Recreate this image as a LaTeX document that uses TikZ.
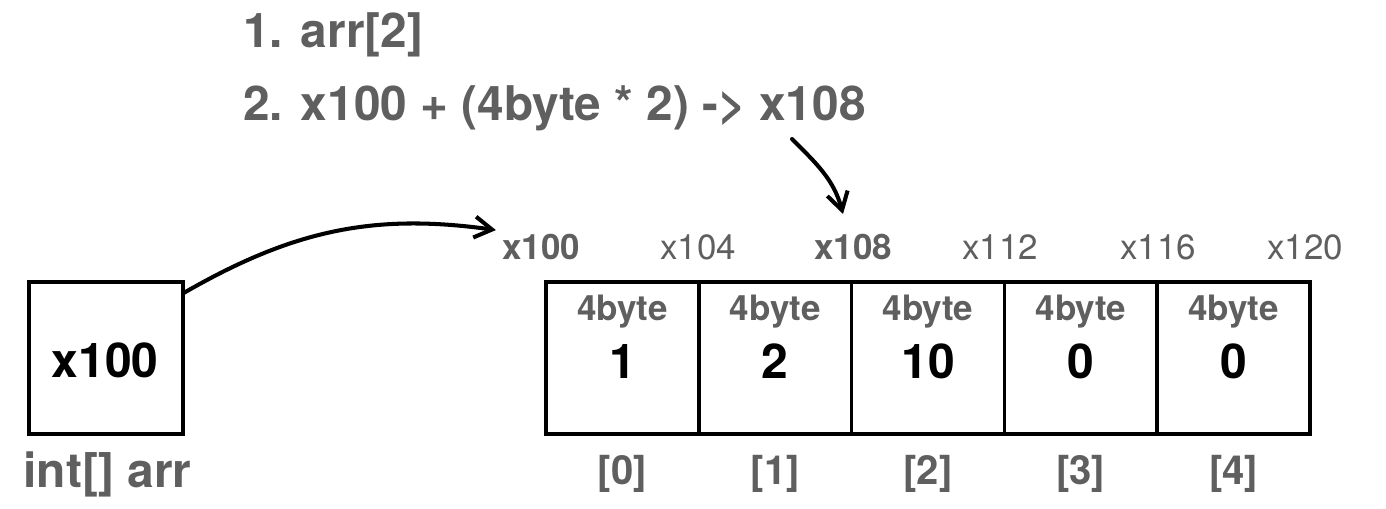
\documentclass[tikz,border=0pt]{standalone}
\usepackage{fontspec}
\setmainfont{TeX Gyre Heros}
\usetikzlibrary{arrows.meta}
\definecolor{labelgray}{RGB}{95,95,95}
\begin{document}
\begin{tikzpicture}[
        titletext/.style={font=\fontsize{27.2}{32}\selectfont\bfseries, text=labelgray, anchor=base west, inner sep=0pt},
        valtext/.style={font=\fontsize{27.3}{32}\selectfont\bfseries, anchor=base, inner sep=0pt},
        nametext/.style={font=\fontsize{27.3}{32}\selectfont\bfseries, text=labelgray, anchor=base, inner sep=0pt},
        addrtext/.style={font=\fontsize{19.9}{24}\selectfont, text=labelgray, anchor=base},
        addrbold/.style={addrtext, font=\fontsize{19.9}{24}\selectfont\bfseries},
        bytetext/.style={font=\fontsize{19.9}{24}\selectfont\bfseries, text=labelgray, anchor=base, inner sep=0pt},
        idxtext/.style={font=\fontsize{22.8}{27}\selectfont\bfseries, text=labelgray, anchor=base, inner sep=0pt},
        ptrbox/.style={draw, line width=2pt, minimum width=3.08cm, minimum height=3.04cm, outer sep=0pt},
        cell/.style={draw, line width=2pt, minimum width=3.056cm, minimum height=3.04cm, outer sep=0pt},
        pointer/.style={-{Straight Barb[length=3.5mm, width=4.2mm]}, line width=2.3pt, line cap=round}
    ]
        \useasboundingbox (0, 0) rectangle (27.72, -10.16);

        % Steps
        \node[titletext] (line1) at (4.86, -0.94) {1. arr[2]};
        \node[titletext] (line2) at (4.86, -2.40) {2. x100 + (4byte * 2) -> x108};

        % Reference variable
        \node[ptrbox] (ptr) at (2.12, -7.16) {};
        \node[valtext] (ptrval) at (2.1, -7.54) {x100};
        \node[nametext] (ptrname) at (2.15, -9.74) {int[] arr};

        % Addresses
        \node[addrbold] (addr0) at (10.82, -5.18) {x100};
        \node[addrtext] (addr1) at (13.96, -5.18) {x104};
        \node[addrbold] (addr2) at (17.06, -5.18) {x108};
        \node[addrtext] (addr3) at (20.00, -5.18) {x112};
        \node[addrtext] (addr4) at (23.16, -5.18) {x116};
        \node[addrtext] (addr5) at (26.10, -5.18) {x120};

        % Array cells
        \node[cell] (cell0) at (12.448, -7.16) {};
        \node[cell] (cell1) at (15.504, -7.16) {};
        \node[cell] (cell2) at (18.560, -7.16) {};
        \node[cell] (cell3) at (21.616, -7.16) {};
        \node[cell] (cell4) at (24.672, -7.16) {};

        \node[bytetext] (size0) at (12.448, -6.40) {4byte};
        \node[bytetext] (size1) at (15.504, -6.40) {4byte};
        \node[bytetext] (size2) at (18.560, -6.40) {4byte};
        \node[bytetext] (size3) at (21.616, -6.40) {4byte};
        \node[bytetext] (size4) at (24.672, -6.40) {4byte};

        \node[valtext] (val0) at (12.448, -7.56) {1};
        \node[valtext] (val1) at (15.504, -7.56) {2};
        \node[valtext] (val2) at (18.560, -7.56) {10};
        \node[valtext] (val3) at (21.616, -7.56) {0};
        \node[valtext] (val4) at (24.672, -7.56) {0};

        % Indices
        \node[idxtext] (idx0) at (12.448, -9.68) {[0]};
        \node[idxtext] (idx1) at (15.504, -9.68) {[1]};
        \node[idxtext] (idx2) at (18.560, -9.68) {[2]};
        \node[idxtext] (idx3) at (21.616, -9.68) {[3]};
        \node[idxtext] (idx4) at (24.672, -9.68) {[4]};

        % Arrows
        \coordinate (calcfrom) at (15.84, -2.78);
        \draw[pointer] (ptr.40) to[out=30, in=172] (addr0.160);
        \draw[pointer] (calcfrom) to[out=-45, in=105] ([xshift=-0.2cm, yshift=0.27cm]addr2.north);
    \end{tikzpicture}
\end{document}
